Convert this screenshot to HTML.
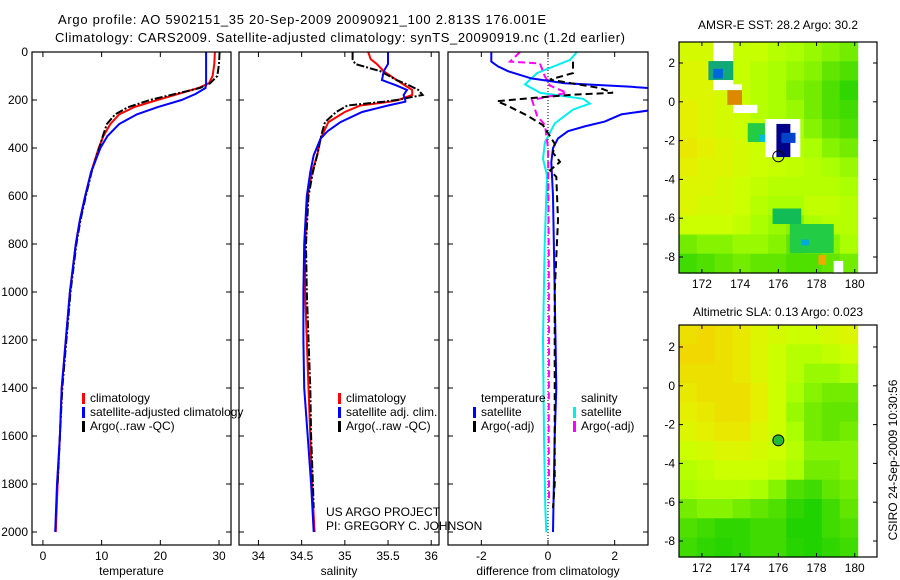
<!DOCTYPE html>
<html><head><meta charset="utf-8"><style>
body{margin:0;background:#fff}
svg{display:block;font-family:"Liberation Sans",sans-serif;font-size:12px}
</style></head><body>
<svg id="c" width="900" height="580" xmlns="http://www.w3.org/2000/svg">
<text x="58" y="24" font-size="13" textLength="488">Argo profile: AO 5902151_35 20-Sep-2009 20090921_100 2.813S 176.001E</text>
<text x="55" y="42" font-size="13" textLength="570">Climatology: CARS2009. Satellite-adjusted climatology: synTS_20090919.nc (1.2d earlier)</text>
<text x="778" y="29" text-anchor="middle">AMSR-E SST: 28.2 Argo: 30.2</text>
<text x="778" y="316" text-anchor="middle">Altimetric SLA: 0.13 Argo: 0.023</text>
<text transform="translate(897,460) rotate(-90)" text-anchor="middle">CSIRO 24-Sep-2009 10:30:56</text>
<text x="326" y="516">US ARGO PROJECT</text>
<text x="326" y="530">PI: GREGORY C. JOHNSON</text>
</svg>
<script>
// ---- data ----
const depthTicks=[0,200,400,600,800,1000,1200,1400,1600,1800,2000];
const tempTicks=[0,10,20,30];
const salTicks=[34,34.5,35,35.5,36];
const diffTicks=[-2,0,2];
const tClimDepth=[0,50,100,130,150,175,200,230,260,300,350,400,500,600,700,800,1000,1200,1400,1600,1800,2000];
const tClim=[29.3,29.2,28.9,28.3,26.5,23,19.5,15.5,13,11.5,10.3,9.5,8.2,7.2,6.3,5.6,4.6,3.9,3.2,2.9,2.5,2.2];
const tSat=[27.8,27.8,27.8,27.8,27.7,26,23.6,19.5,16,13,11,9.8,8.2,7.2,6.3,5.6,4.6,3.9,3.2,2.9,2.4,2.1];
const tArgoDepth=[0,50,100,130,150,175,200,230,260,300,350,400,500,600,700,800,1000,1200,1400,1600,1800];
const tArgo=[30.1,30.0,29.7,28.5,26.7,22.5,18.2,14.5,12.3,10.9,10.2,9.6,8.3,7.3,6.4,5.7,4.7,4.0,3.3,2.9,2.5];
const sDepth=[0,30,50,80,117,140,158,179,200,207,223,250,292,330,361,430,500,600,800,1000,1200,1400,1600,1800,2000];
const sClim=[35.27,35.3,35.37,35.45,35.6,35.7,35.78,35.78,35.62,35.52,35.18,35.0,34.81,34.76,34.72,34.68,34.62,34.57,34.54,34.54,34.56,34.58,34.6,34.62,34.65];
const sSat=[35.5,35.5,35.5,35.45,35.43,35.6,35.72,35.68,35.7,35.7,35.5,35.2,34.95,34.8,34.72,34.64,34.6,34.56,34.53,34.52,34.52,34.53,34.57,34.61,34.64];
const sArgoDepth=[0,30,50,80,117,140,158,179,200,207,223,250,292,330,361,430,500,600,800,1000,1200,1400,1600,1800,1900];
const sArgo=[35.09,35.09,35.12,35.41,35.6,35.75,35.85,35.9,35.6,35.45,35.03,34.9,34.77,34.74,34.72,34.68,34.63,34.58,34.55,34.56,34.58,34.6,34.61,34.63,34.64];
const dTSatDepth=[0,40,60,80,110,130,145,160,200,240,260,290,310,330,360,400,460,600,1000,1400,1600,2000];
const dTSat=[-1.7,-1.7,-1.5,-1.2,-0.5,0.5,2.5,4,6,3.2,2.2,1.7,1.1,0.6,0.3,0.15,0.1,0.15,0.2,0.25,0.2,0.15];
const dTArgoDepth=[40,88,115,150,170,178,190,205,223,264,305,382,420,458,493,520,700,1000,1400,1800,1900];
const dTArgo=[0.75,0.75,0.05,1.55,1.95,0.75,-0.33,-1.53,-1.23,-0.63,-0.15,0.2,0.15,0.36,0.06,0.25,0.3,0.2,0.2,0.2,0.15];
const dSSatDepth=[0,33,88,135,170,195,215,240,298,375,444,514,800,1200,1600,1900,2000];
const dSSat=[0.87,0.66,-0.33,-0.69,-0.24,1.05,1.26,0.75,0.2,-0.09,-0.15,-0.03,-0.1,-0.15,-0.12,-0.08,-0.05];
const dSArgoDepth=[0,40,48,100,140,170,200,265,305,400,800,1200,1600,1880];
const dSArgo=[-0.84,-1.14,-0.24,-0.1,0.06,0.56,-0.48,-0.33,-0.09,0.0,0.02,0.03,0.02,0.03];
const lonTicks=[172,174,176,178,180];
const latTicks=[2,0,-2,-4,-6,-8];
const sstGrid=[
[.78,.78,.8,.75,.75,.72,.7,.68,.66,.64],
[.8,.8,.78,.75,.72,.7,.68,.66,.62,.6],
[.8,.8,.78,.75,.72,.7,.66,.64,.6,.56],
[.82,.8,.78,.76,.72,.7,.68,.64,.6,.58],
[.82,.8,.78,.76,.74,.72,.7,.66,.62,.6],
[.84,.82,.8,.78,.76,.74,.72,.7,.66,.64],
[.82,.8,.8,.78,.76,.75,.74,.72,.7,.68],
[.8,.8,.78,.76,.74,.72,.72,.72,.72,.7],
[.8,.78,.78,.76,.72,.7,.7,.74,.74,.72],
[.76,.76,.76,.74,.7,.68,.66,.7,.72,.72],
[.64,.66,.66,.68,.68,.66,.62,.64,.66,.7],
[.58,.6,.62,.64,.62,.62,.6,.6,.62,.64]];
const slaGrid=[
[.86,.88,.86,.84,.8,.78,.76,.76,.78,.8],
[.88,.88,.86,.84,.8,.76,.72,.72,.74,.76],
[.86,.86,.86,.84,.8,.76,.72,.68,.68,.7],
[.84,.86,.86,.86,.82,.76,.7,.66,.64,.64],
[.82,.84,.86,.86,.82,.76,.68,.64,.62,.62],
[.8,.82,.84,.84,.8,.76,.7,.64,.62,.64],
[.76,.78,.8,.8,.78,.76,.72,.66,.66,.66],
[.72,.74,.76,.76,.76,.74,.7,.64,.64,.66],
[.7,.72,.72,.72,.7,.66,.6,.58,.62,.64],
[.64,.66,.66,.64,.62,.6,.56,.54,.58,.62],
[.6,.58,.56,.56,.58,.58,.54,.54,.58,.6],
[.58,.56,.55,.56,.58,.58,.55,.54,.56,.58]];
// overlays [lon0,lon1,lat0,lat1,color]
const sstPatches=[
[172.6,173.64,3.1,2.1,'#fff'],[172.34,173.64,2.1,1.12,'#11aa77'],[172.6,173.1,1.7,1.2,'#0066dd'],
[172.6,173.64,1.12,0.6,'#fff'],[173.33,174.1,0.9,0.6,'#fff'],[173.33,174.1,0.6,-0.16,'#dd8800'],
[173.64,174.9,-0.16,-0.58,'#fff'],[174.4,175.3,-1.1,-2.07,'#22cc44'],[175,175.4,-1.7,-2.07,'#00bbdd'],
[175.32,177.15,-0.89,-2.85,'#fff'],[175.9,176.63,-1.14,-2.85,'#000088'],[176.16,176.9,-1.6,-2.12,'#0044cc'],
[175.7,177.2,-5.5,-6.3,'#11bb55'],[176.6,178.9,-6.3,-7.8,'#22cc44'],[177.2,177.6,-7.1,-7.4,'#00aadd'],
[178.1,178.5,-7.9,-8.4,'#eeaa00'],[178.9,179.4,-8.2,-8.8,'#fff']];
const argoLon=[176.0], argoLat=[-2.81];

// ---- helpers ----
const svg=document.getElementById('c');
const NS='http://www.w3.org/2000/svg';
function el(t,a,p){const e=document.createElementNS(NS,t);for(const k in a)e.setAttribute(k,a[k]);(p||svg).appendChild(e);return e;}
const Y0=52, DPX=0.24;
function yD(d){return Y0+d*DPX;}
const panels={
 temp:{x0:32,x1:231,v0:-1.86,v1:32.04,ticks:tempTicks,label:'temperature',lab:x=>String(x)},
 sal:{x0:239,x1:439,v0:33.775,v1:36.09,ticks:salTicks,label:'salinity',lab:x=>String(x)},
 diff:{x0:448,x1:648,v0:-3.0,v1:3.0,ticks:diffTicks,label:'difference from climatology',lab:x=>String(x)}};
function xf(p,v){return p.x0+(v-p.v0)/(p.v1-p.v0)*(p.x1-p.x0);}
const YB=545;
let clipN=0;
function drawPanel(key,showY){
 const p=panels[key];
 const g=el('g',{});
 
 
 clipN++;
 const cp=el('clipPath',{id:'cp'+clipN},g);
 el('rect',{x:p.x0,y:Y0,width:p.x1-p.x0,height:YB-Y0},cp);
 p.clip='url(#cp'+clipN+')';p.g=g;
 for(const t of p.ticks){const x=xf(p,t);
  el('line',{x1:x,x2:x,y1:YB,y2:YB-5,stroke:'#000'},g);el('line',{x1:x,x2:x,y1:Y0,y2:Y0+5,stroke:'#000'},g);
  const tx=el('text',{x:x,y:YB+15,'text-anchor':'middle'},g);tx.textContent=p.lab(t);
  
  }
 for(const d of depthTicks){const y=yD(d);
  el('line',{x1:p.x0,x2:p.x0+5,y1:y,y2:y,stroke:'#000'},g);el('line',{x1:p.x1,x2:p.x1-5,y1:y,y2:y,stroke:'#000'},g);
  if(showY){const tx=el('text',{x:28,y:y+4,'text-anchor':'end'},g);tx.textContent=d;
   
   }}
 const lt=el('text',{x:(p.x0+p.x1)/2,y:YB+30,'text-anchor':'middle'},g);lt.textContent=p.label;
 
 
 return p;}
function series(p,depths,vals,color,dash,name,w){
 const pts=depths.map((d,i)=>xf(p,vals[i]).toFixed(1)+','+yD(d).toFixed(1)).join(' ');
 const l=el('polyline',{points:pts,fill:'none',stroke:color,'stroke-width':w||2,'clip-path':p.clip,'stroke-dasharray':dash||'none'},p.g);
 
 }
function frame(p){el('rect',{x:p.x0,y:Y0,width:p.x1-p.x0,height:YB-Y0,fill:'none',stroke:'#000','stroke-width':1.2},p.g);}
function legend(x,y,items){
 items.forEach((it,i)=>{
  const yy=y+i*14;
  const m=el('rect',{x:x,y:yy-9,width:3,height:11,fill:it[1]});
  
  
  const t=el('text',{x:x+8,y:yy});t.textContent=it[0];
  
  });}

const pT=drawPanel('temp',true);
series(pT,tClimDepth,tClim,'#f00',null,'temp-climatology-line');
series(pT,tArgoDepth,tArgo,'#000','8,2,2,2','temp-argo-line');
series(pT,tClimDepth,tSat,'#00f',null,'temp-satellite-line');
frame(pT);
const pS=drawPanel('sal',false);
series(pS,sDepth,sClim,'#f00',null,'sal-climatology-line');
series(pS,sArgoDepth,sArgo,'#000','8,2,2,2','sal-argo-line');
series(pS,sDepth,sSat,'#00f',null,'sal-satellite-line');
frame(pS);
const pD=drawPanel('diff',false);
const zl=el('line',{x1:xf(pD,0),x2:xf(pD,0),y1:Y0,y2:YB,stroke:'#000','stroke-dasharray':'1,2'},pD.g);


series(pD,dSSatDepth,dSSat,'#0ee',null,'sal-satellite-diff-line');
series(pD,dSArgoDepth,dSArgo,'#f0f','7,4','sal-argo-diff-line');
series(pD,dTSatDepth,dTSat,'#00f',null,'temp-satellite-diff-line');
series(pD,dTArgoDepth,dTArgo,'#000','7,4','temp-argo-diff-line');
frame(pD);
legend(82,402,[['climatology','#f00'],['satellite-adjusted climatology','#00f'],['Argo(..raw -QC)','#000']]);
legend(338,402,[['climatology','#f00'],['satellite adj. clim.','#00f'],['Argo(..raw -QC)','#000']]);
{const t=el('text',{x:481,y:402});t.textContent='temperature';
 const s=el('text',{x:581,y:402});s.textContent='salinity';}
legend(473,416,[['satellite','#00f'],['Argo(-adj)','#000']]);
legend(573,416,[['satellite','#0ee'],['Argo(-adj)','#f0f']]);

// ---- maps ----
const rampV=[0,.3,.4,.5,.6,.7,.76,.82,.88,.95,1];
const rampC=[[0,0,136],[0,60,220],[0,200,220],[0,200,0],[80,224,0],[170,255,0],[204,255,0],[228,240,0],[240,216,0],[255,160,0],[230,60,0]];
function col(v){for(let i=1;i<rampV.length;i++){if(v<=rampV[i]){const f=(v-rampV[i-1])/(rampV[i]-rampV[i-1]);const a=rampC[i-1],b=rampC[i];return 'rgb('+a.map((c,k)=>Math.round(c+(b[k]-c)*f)).join(',')+')';}}return 'rgb(230,60,0)';}
function drawMap(name,yTop,yBot,lat2y,grid,patches,fillCircle){
 const m={x0:679,x1:877,y0:yTop,y1:yBot,lon0:170.8,lonPx:19.1,lat2y:lat2y,latPx:19.4};
 const lx=v=>m.x0+(v-m.lon0)*m.lonPx; const ly=v=>m.lat2y-(v-2)*m.latPx;
 const g=el('g',{});
 
 
 const lonMax=180.15, latTop=2+(m.lat2y-yTop)/m.latPx, latBot=2-(yBot-m.lat2y)/m.latPx;
 const nr=grid.length,nc=grid[0].length;
 const dLon=(lonMax-m.lon0)/nc,dLat=(latTop-latBot)/nr;
 grid.forEach((row,r)=>row.forEach((v,c)=>{
  const x=lx(m.lon0+c*dLon),y=ly(latTop-r*dLat);
  const cell=el('rect',{x:x.toFixed(1),y:y.toFixed(1),width:(dLon*m.lonPx+0.6).toFixed(1),height:(dLat*m.latPx+0.6).toFixed(1),fill:col(v)},g);
  
  }));
 patches.forEach(p=>{const r=el('rect',{x:lx(p[0]),y:ly(p[2]),width:(p[1]-p[0])*m.lonPx,height:(p[2]-p[3])*m.latPx,fill:p[4]},g);
  
  });
 argoLon.forEach((lo,i)=>{const c=el('circle',{cx:lx(lo),cy:ly(argoLat[i]),r:5.5,fill:fillCircle||'none',stroke:'#000','stroke-width':1},g);
  
  });
 for(const t of lonTicks){const x=lx(t);el('line',{x1:x,x2:x,y1:yBot,y2:yBot-4,stroke:'#000'},g);el('line',{x1:x,x2:x,y1:yTop,y2:yTop+4,stroke:'#000'},g);
  const tx=el('text',{x:x,y:yBot+15,'text-anchor':'middle'},g);tx.textContent=t;
  
  }
 for(const t of latTicks){const y=ly(t);el('line',{x1:m.x0,x2:m.x0+4,y1:y,y2:y,stroke:'#000'},g);el('line',{x1:m.x1,x2:m.x1-4,y1:y,y2:y,stroke:'#000'},g);
  const tx=el('text',{x:675,y:y+4,'text-anchor':'end'},g);tx.textContent=t;
  
  }
 el('rect',{x:m.x0,y:yTop,width:m.x1-m.x0,height:yBot-yTop,fill:'none',stroke:'#000','stroke-width':1.2},g);
}
drawMap('sst-map',42,273,63,sstGrid,sstPatches,null);
drawMap('sla-map',325,557,347,slaGrid,[],'#22bb33');
</script>
</body></html>
